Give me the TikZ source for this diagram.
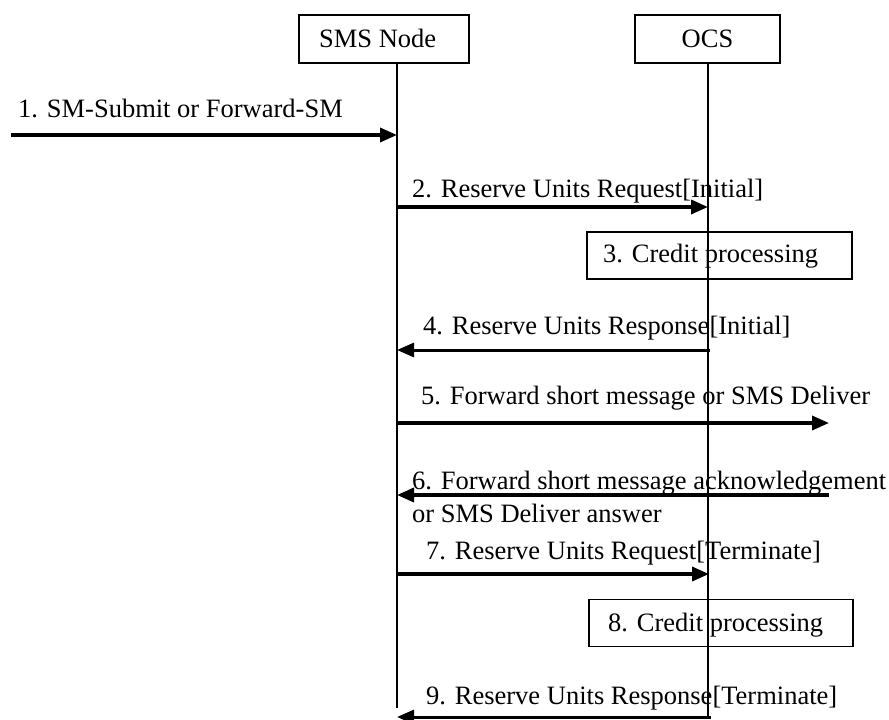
\documentclass[tikz,border=0pt]{standalone}
\usepackage{fontspec}
\setmainfont{Liberation Serif}
\usetikzlibrary{arrows.meta}
\begin{document}
\begin{tikzpicture}[x=1pt,y=-1pt,
  every node/.style={font=\fontsize{26.5}{31}\selectfont, inner sep=0pt},
  entity/.style={draw, line width=1.4pt, minimum height=48pt},
  procbox/.style={draw, line width=1.4pt, minimum height=47pt},
  lifeline/.style={line width=1.4pt},
  msg/.style={line width=3.6pt, -{Triangle[length=17pt,width=14pt]}},
  msgthin/.style={line width=3pt, -{Triangle[length=17pt,width=14pt]}},
  lbl/.style={anchor=base west}]
\useasboundingbox (0,0) rectangle (889,720);
% entities
\node[entity, minimum width=170pt] (sms) at (384,39) {};
\node[lbl] (smst) at (319,47) {SMS Node};
\node[entity, minimum width=145pt] (ocs) at (707.5,39) {};
\node (ocst) at (707.5,39) {OCS};
% lifeline coordinates
\coordinate (sT) at (397,63);
\coordinate (sB) at (397,708);
\coordinate (oT) at (708,63);
\coordinate (oB) at (708,717);
\draw[lifeline] (sT) -- (sB);
\draw[lifeline] (oT) -- (oB);
% processing boxes
\node[procbox, minimum width=265pt] (p3) at (719.5,255.5) {};
\node[lbl] (p3t) at (603,262) {3. Credit processing};
\node[procbox, minimum width=264pt] (p8) at (721,623) {};
\node[lbl] (p8t) at (608,631) {8. Credit processing};
% message points
\coordinate (m1a) at (11,135);  \coordinate (m1b) at (397,135);
\coordinate (m2a) at (397,207); \coordinate (m2b) at (708,207);
\coordinate (m4a) at (710,350); \coordinate (m4b) at (397,350);
\coordinate (m5a) at (397,423); \coordinate (m5b) at (829,423);
\coordinate (m6a) at (829,495); \coordinate (m6b) at (397,495);
\coordinate (m7a) at (397,574); \coordinate (m7b) at (709,574);
\coordinate (m9a) at (711,717); \coordinate (m9b) at (397,717);
% messages
\draw[msg] (m1a) -- (m1b);
\node[lbl] (l1) at (18,117) {1. SM-Submit or Forward-SM};
\draw[msg] (m2a) -- (m2b);
\node[lbl] (l2) at (412,197) {2. Reserve Units Request[Initial]};
\draw[msgthin] (m4a) -- (m4b);
\node[lbl] (l4) at (423,334) {4. Reserve Units Response[Initial]};
\draw[msg] (m5a) -- (m5b);
\node[lbl] (l5) at (421,404) {5. Forward short message or SMS Deliver};
\draw[msg] (m6a) -- (m6b);
\node[lbl] (l6) at (412,489) {6. Forward short message acknowledgement};
\node[lbl] (l6b) at (412,522) {or SMS Deliver answer};
\draw[msg] (m7a) -- (m7b);
\node[lbl] (l7) at (426,559) {7. Reserve Units Request[Terminate]};
\draw[msgthin] (m9a) -- (m9b);
\node[lbl] (l9) at (426,704) {9. Reserve Units Response[Terminate]};
\end{tikzpicture}
\end{document}
